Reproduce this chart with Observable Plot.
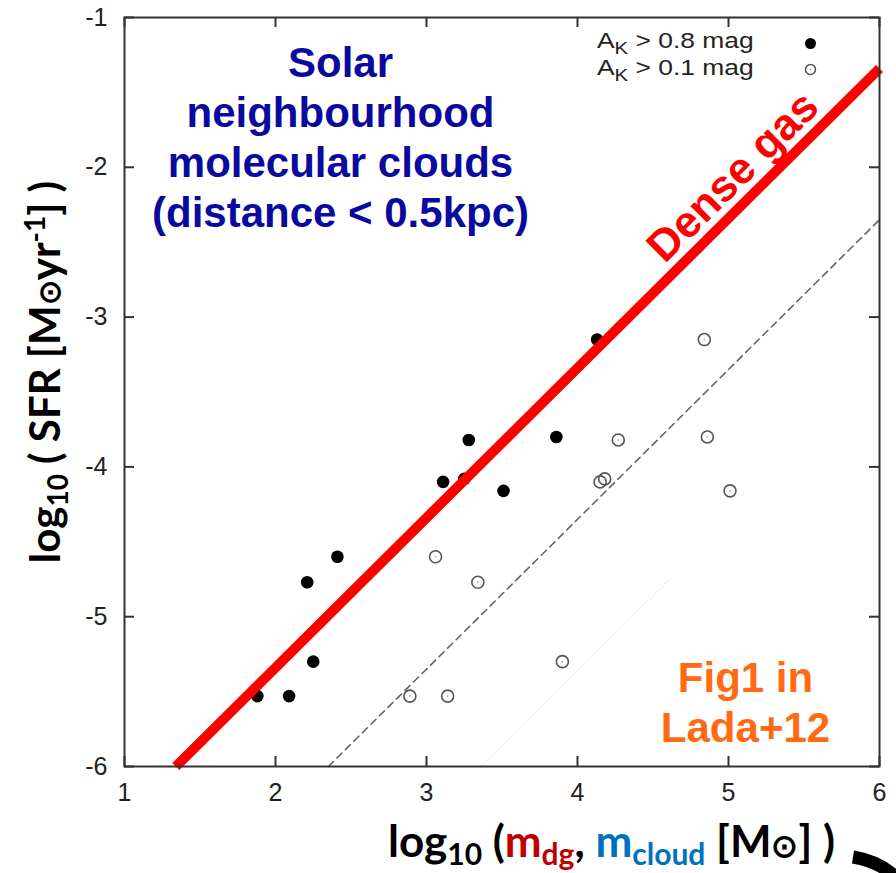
<!DOCTYPE html>
<html>
<head>
<meta charset="utf-8">
<script src="https://cdn.jsdelivr.net/npm/d3@7"></script>
<script src="https://cdn.jsdelivr.net/npm/@observablehq/plot@0.6"></script>
<style>
  html, body { margin: 0; padding: 0; background: #fff; }
</style>
</head>
<body>
<div id="chart"></div>
<script>
// ---- data ----
const xTicks = [1, 2, 3, 4, 5, 6];
const yTicks = [-1, -2, -3, -4, -5, -6];
// log10 SFR of each cloud
const sfr = [-5.53, -5.53, -5.30, -4.77, -4.60, -4.10, -4.08, -3.82, -3.80, -4.16, -3.15];
// log10 mass above A_K > 0.8 mag (dense gas) and above A_K > 0.1 mag (cloud)
const massDense = [1.88, 2.09, 2.25, 2.21, 2.41, 3.11, 3.25, 3.28, 3.86, 3.51, 4.13];
const massCloud = [2.89, 3.14, 3.90, 3.34, 3.06, 4.15, 4.18, 4.27, 4.86, 5.01, 4.84];
// relations: log SFR = log m + intercept
const denseGasX = [1.34, 6.0];
const denseGasIntercept = -7.34;
const cloudFitX = [2.35, 6.0];
const cloudFitIntercept = -8.35;
const faintFitX = [3.36, 4.6];
const faintFitIntercept = -9.36;

const denseTbl = massDense.map((m, i) => ({m, s: sfr[i]}));
const cloudTbl = massCloud.map((m, i) => ({m, s: sfr[i]}));
const lineTbl = (xs, b) => xs.map(x => ({m: x, s: x + b}));

const W = 896, H = 873;
const mL = 124, mR = 17, mT = 17, mB = 107;
const frameW = W - mL - mR, frameH = H - mT - mB;
const SANS = "Liberation Sans, Arial, sans-serif";

const plot = Plot.plot({
  width: W, height: H,
  marginLeft: mL, marginRight: mR, marginTop: mT, marginBottom: mB,
  x: {domain: [1, 6], axis: null},
  y: {domain: [-6, -1], axis: null},
  style: {fontFamily: SANS, fontSize: "25px", color: "#222", background: "#fff"},
  marks: [
    // faint dotted relation
    Plot.line(lineTbl(faintFitX, faintFitIntercept), {x: "m", y: "s", stroke: "#e2e2e2", strokeWidth: 1, strokeDasharray: "1.5,2"}),
    // dashed cloud relation
    Plot.line(lineTbl(cloudFitX, cloudFitIntercept), {x: "m", y: "s", stroke: "#666", strokeWidth: 1.6, strokeDasharray: "7,5"}),
    // open circles (A_K > 0.1)
    Plot.dot(cloudTbl, {x: "m", y: "s", r: 6, stroke: "#555", strokeWidth: 1.6, fill: "none"}),
    Plot.dot(cloudTbl, {x: "m", y: "s", r: 0.8, fill: "#999"}),
    // filled (A_K > 0.8)
    Plot.dot(denseTbl, {x: "m", y: "s", r: 6.3, fill: "#000"}),
    // dense gas relation
    Plot.line(lineTbl(denseGasX, denseGasIntercept), {x: "m", y: "s", stroke: "#ff0000", strokeWidth: 10, strokeLinecap: "butt"}),
    Plot.text(["Dense gas"], {x: () => 5.03, y: () => 5.03 + denseGasIntercept, text: d => d, rotate: -44.8, dx: 0, dy: -37,
      textAnchor: "middle", lineAnchor: "middle", fill: "#ff0000", fontSize: 44, fontWeight: "bold", fontFamily: SANS}),
    // frame & ticks (inward, all four sides)
    Plot.frame({stroke: "#333", strokeWidth: 2}),
    Plot.ruleX(xTicks, {x: d => d, insetTop: frameH - 10, stroke: "#333", strokeWidth: 2}),
    Plot.ruleX(xTicks, {x: d => d, insetBottom: frameH - 10, stroke: "#333", strokeWidth: 2}),
    Plot.ruleY(yTicks, {y: d => d, insetRight: frameW - 10, stroke: "#333", strokeWidth: 2}),
    Plot.ruleY(yTicks, {y: d => d, insetLeft: frameW - 10, stroke: "#333", strokeWidth: 2}),
    // tick labels
    Plot.text(xTicks, {x: d => d, frameAnchor: "bottom", lineAnchor: "top", dy: 17, text: d => String(d),
      fontSize: 25, fill: "#222", textAnchor: "middle"}),
    Plot.text(yTicks, {y: d => d, frameAnchor: "left", lineAnchor: "middle", dx: -17, text: d => String(d),
      fontSize: 25, fill: "#222", textAnchor: "end"}),
    // annotations
    Plot.text(["Solar\nneighbourhood\nmolecular clouds\n(distance < 0.5kpc)"], {frameAnchor: "top-left", dx: 216, dy: 24,
      text: d => d, textAnchor: "middle", lineAnchor: "top", lineHeight: 1.19, fill: "#0a0a9e", fontSize: 42, fontWeight: "bold"}),
    Plot.text(["Fig1 in\nLada+12"], {frameAnchor: "top-left", dx: 621, dy: 639,
      text: d => d, textAnchor: "middle", lineAnchor: "top", lineHeight: 1.19, fill: "#ff6a13", fontSize: 42, fontWeight: "bold"}),
    // legend symbols
    Plot.dot([0], {frameAnchor: "top-right", dx: -69, dy: 26, r: 5.5, fill: "#000"}),
    Plot.dot([0], {frameAnchor: "top-right", dx: -69, dy: 52, r: 5, stroke: "#555", strokeWidth: 1.5, fill: "none"}),
    Plot.dot([0], {frameAnchor: "top-right", dx: -69, dy: 52, r: 0.8, fill: "#999"})
  ]
});

document.getElementById("chart").appendChild(plot);

const svg = d3.select(plot);

// ---- rich text (sub/superscripts) ----
function rich(g, parts) {
  const t = g.append("text");
  parts.forEach(p => {
    const ts = t.append("tspan").text(p.t);
    if (p.fill) ts.attr("fill", p.fill);
    if (p.size) ts.attr("font-size", p.size);
    if (p.dy) ts.attr("dy", p.dy);
  });
  return t;
}

// legend labels
const legendLabels = [["0.8", 48], ["0.1", 75]];
legendLabels.forEach(([v, y]) => {
  const g = svg.append("g").attr("transform", `translate(597,${y}) scale(1.2,1)`)
    .attr("font-family", SANS).attr("font-size", 22).attr("fill", "#222").attr("text-anchor", "start");
  rich(g, [{t: "A"}, {t: "K", size: 17, dy: 6}, {t: " > " + v + " mag", dy: -6}]);
});

// x axis title
const gx = svg.append("g").attr("transform", "translate(388,857)")
  .attr("font-family", "Lato, sans-serif").attr("font-weight", "bold").attr("font-size", 44).attr("fill", "#000")
  .attr("text-anchor", "start");
rich(gx, [
  {t: "log"}, {t: "10", size: 30, dy: 8}, {t: " (", dy: -8},
  {t: "m", fill: "#c00000"}, {t: "dg", fill: "#c00000", size: 30, dy: 8},
  {t: ",", dy: -8}, {t: " m", fill: "#0070c0"}, {t: "cloud", fill: "#0070c0", size: 30, dy: 8},
  {t: " [M", dy: -8}, {t: "\u2299", size: 32}, {t: "] )"}
]);

// y axis title
const gy = svg.append("g").attr("transform", "translate(60,372) rotate(-90)")
  .attr("font-family", "Lato, sans-serif").attr("font-weight", "bold").attr("font-size", 42).attr("fill", "#000")
  .attr("text-anchor", "middle");
rich(gy, [
  {t: "log"}, {t: "10", size: 28, dy: 8}, {t: " ( SFR [M", dy: -8}, {t: "\u2299", size: 30},
  {t: "yr"}, {t: "-1", size: 28, dy: -15}, {t: "] )", dy: 15}
]);

// stray arrow fragment at the bottom-right corner
svg.append("path").attr("d", "M853,857 Q884,862 902,884").attr("fill", "none").attr("stroke", "#000").attr("stroke-width", 13);
</script>
</body>
</html>
